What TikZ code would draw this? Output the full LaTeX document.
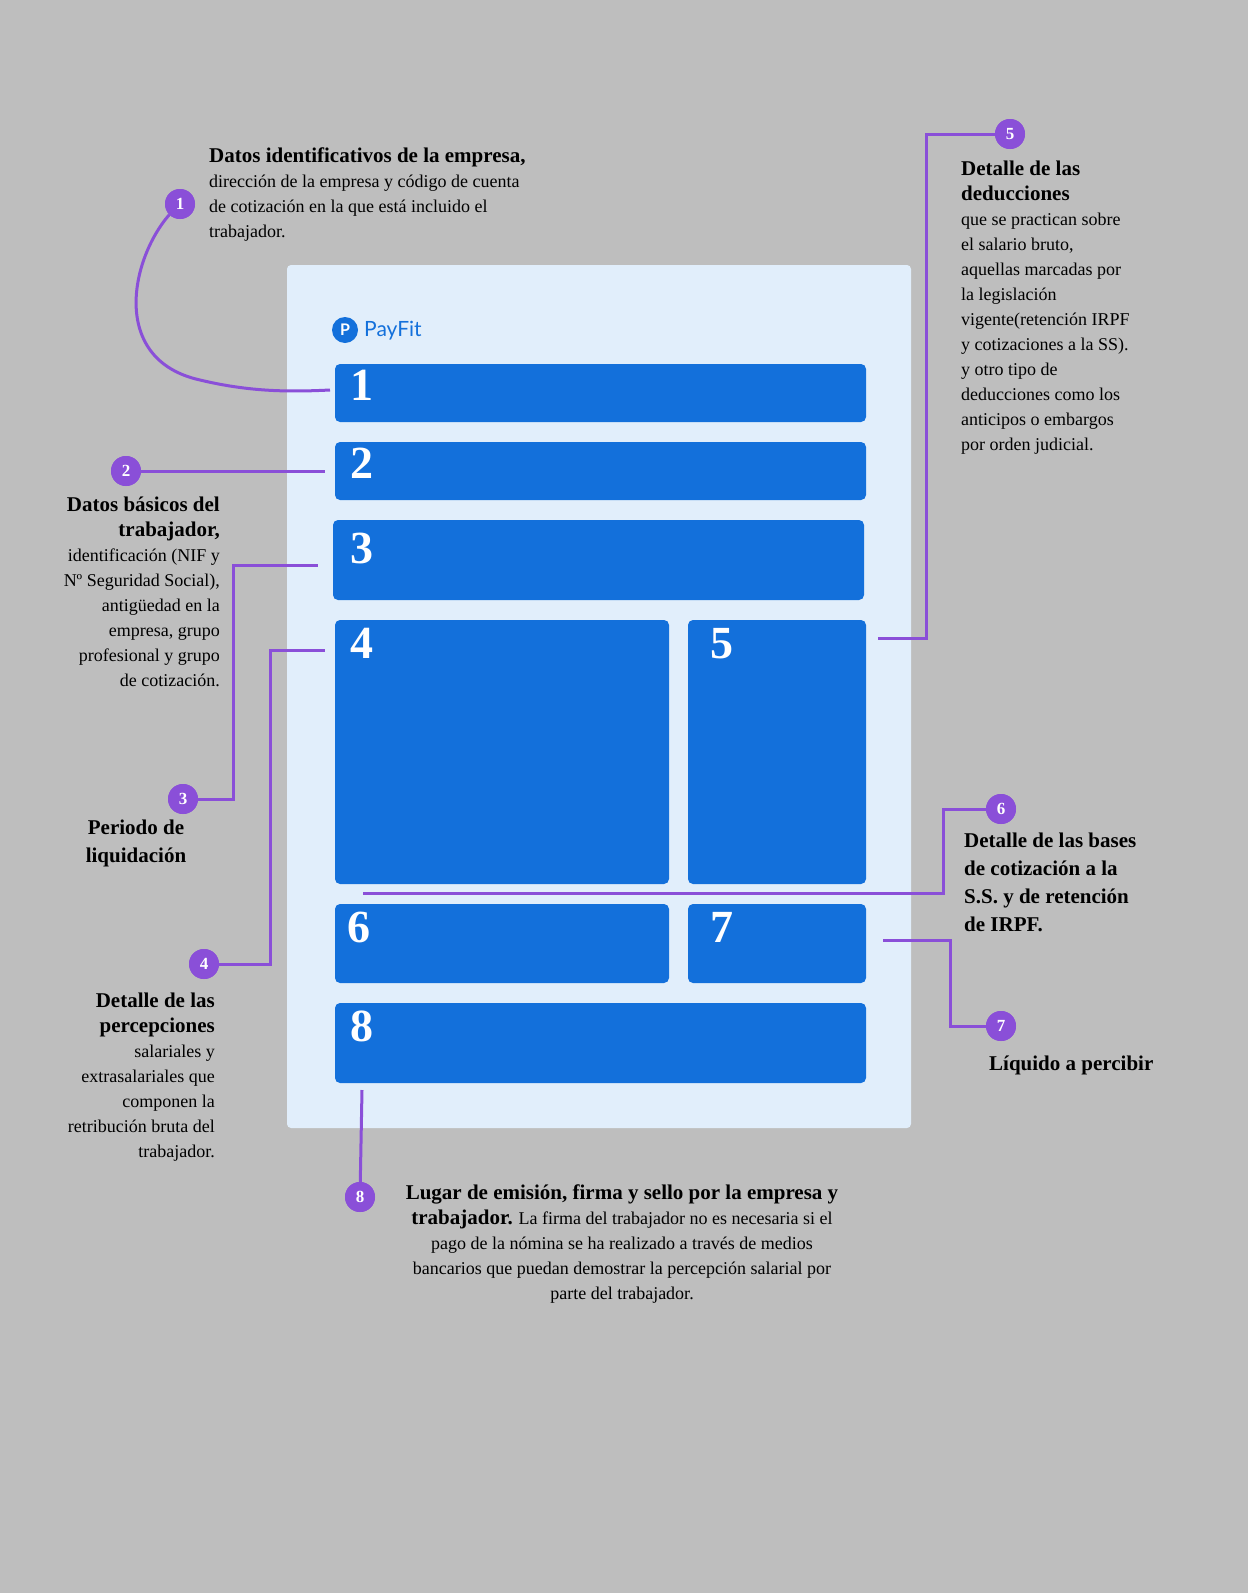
\documentclass[tikz,border=0pt]{standalone}
\usepackage{fontspec}
\setmainfont{Liberation Serif}
\setsansfont{Lato}
\definecolor{bg}{HTML}{BEBEBE}
\definecolor{paper}{HTML}{E1EEFB}
\definecolor{blu}{HTML}{1370DB}
\definecolor{pur}{HTML}{8A4FD8}
\newcommand\hdf{\fontsize{21}{28}\selectfont\bfseries}
\tikzset{
 box/.style={fill=blu,rounded corners=5pt},
 num/.style={text=white,font=\fontsize{46}{46}\selectfont\bfseries,anchor=north west,inner sep=0},
 lead/.style={draw=pur,line width=3pt},
 badge/.style={circle,fill=pur,minimum size=30pt,inner sep=0,text=white,font=\fontsize{17}{17}\selectfont\bfseries},
 txt/.style={font=\fontsize{18}{25}\selectfont,inner sep=0},
 hd/.style={font=\hdf}
}
\begin{document}
\begin{tikzpicture}[x=1pt,y=-1pt]
\fill[bg] (0,0) rectangle (1248,1593);
\useasboundingbox (0,0) rectangle (1248,1593);
\fill[paper,rounded corners=4pt] (287,265) rectangle (911,1128);
% logo
\node[circle,fill=blu,minimum size=26pt,inner sep=0,text=white,font=\sffamily\bfseries\fontsize{16}{16}\selectfont] (logo) at (345,330) {P};
\node[anchor=west,text=blu,font=\sffamily\fontsize{21}{21}\selectfont,inner sep=0] (lname) at (364,331) {PayFit};
% boxes
\fill[box] (335,364) rectangle (866,422); \node[num] (n1) at (350,370) {1};
\fill[box] (335,442) rectangle (866,500); \node[num] (n2) at (350,448) {2};
\fill[box] (333,520) rectangle (864,600); \node[num] (n3) at (350,533) {3};
\fill[box] (335,620) rectangle (669,884); \node[num] (n4) at (350,628) {4};
\fill[box] (688,620) rectangle (866,884); \node[num] (n5) at (710,628) {5};
\fill[box] (335,904) rectangle (669,983); \node[num] (n6) at (347,912) {6};
\fill[box] (688,904) rectangle (866,983); \node[num] (n7) at (710,912) {7};
\fill[box] (335,1003) rectangle (866,1083); \node[num] (n8) at (350,1011) {8};
% badges
\node[badge] (b1) at (180,204) {1};
\node[badge] (b2) at (126,471) {2};
\node[badge] (b3) at (183,799) {3};
\node[badge] (b4) at (204,964) {4};
\node[badge] (b5) at (1010,134) {5};
\node[badge] (b6) at (1001,809) {6};
\node[badge] (b7) at (1001,1026) {7};
\node[badge] (b8) at (360,1197) {8};
\coordinate (e1) at (330,390);
\coordinate (e2) at (325,471);
\coordinate (e3) at (318,565);
\coordinate (e4) at (325,650);
\coordinate (e5) at (878,638);
\coordinate (e6) at (363,893);
\coordinate (e7) at (883,940);
\coordinate (e8) at (362,1090);
\draw[lead] (b1.south west) .. controls (130,260) and (110,360) .. (200,380) .. controls (250,392) and (290,392) .. (e1);
\draw[lead] (b2) -- (e2);
\draw[lead] (b3) -- (233,799) -- (233,565) -- (e3);
\draw[lead] (b4) -- (270,964) -- (270,650) -- (e4);
\draw[lead] (b5) -- (926,134) -- (926,638) -- (e5);
\draw[lead] (b6) -- (943,809) -- (943,893) -- (e6);
\draw[lead] (b7) -- (950,1026) -- (950,940) -- (e7);
\draw[lead] (b8) -- (e8);
\node[badge] at (b1) {1};
\node[badge] at (b2) {2};
\node[badge] at (b3) {3};
\node[badge] at (b4) {4};
\node[badge] at (b5) {5};
\node[badge] at (b6) {6};
\node[badge] at (b7) {7};
\node[badge] at (b8) {8};
% texts
\node[txt,anchor=north west,align=left] (t1) at (209,148) {{\hdf Datos identificativos de la empresa,}\\dirección de la empresa y código de cuenta\\de cotización en la que está incluido el\\trabajador.};
\node[txt,anchor=north east,align=right] (t2) at (220,497) {{\hdf Datos básicos del}\\{\hdf trabajador,}\\identificación (NIF y\\Nº Seguridad Social),\\antigüedad en la\\empresa, grupo\\profesional y grupo\\de cotización.};
\node[txt,anchor=north,align=center,hd] (t3) at (136,820) {Periodo de\\liquidación};
\node[txt,anchor=north east,align=right] (t4) at (215,993) {{\hdf Detalle de las}\\{\hdf percepciones}\\salariales y\\extrasalariales que\\componen la\\retribución bruta del\\trabajador.};
\node[txt,anchor=north west,align=left] (t5) at (961,161) {{\hdf Detalle de las}\\{\hdf deducciones}\\que se practican sobre\\el salario bruto,\\aquellas marcadas por\\la legislación\\vigente(retención IRPF\\y cotizaciones a la SS).\\y otro tipo de\\deducciones como los\\anticipos o embargos\\por orden judicial.};
\node[txt,anchor=north west,align=left,hd] (t6) at (964,833) {Detalle de las bases\\de cotización a la\\S.S. y de retención\\de IRPF.};
\node[txt,anchor=west,hd] (t7) at (989,1065) {Líquido a percibir};
\node[txt,anchor=north,align=center] (t8) at (622,1184) {{\hdf Lugar de emisión, firma y sello por la empresa y}\\{\hdf trabajador.} La firma del trabajador no es necesaria si el\\pago de la nómina se ha realizado a través de medios\\bancarios que puedan demostrar la percepción salarial por\\parte del trabajador.};
\end{tikzpicture}
\end{document}
